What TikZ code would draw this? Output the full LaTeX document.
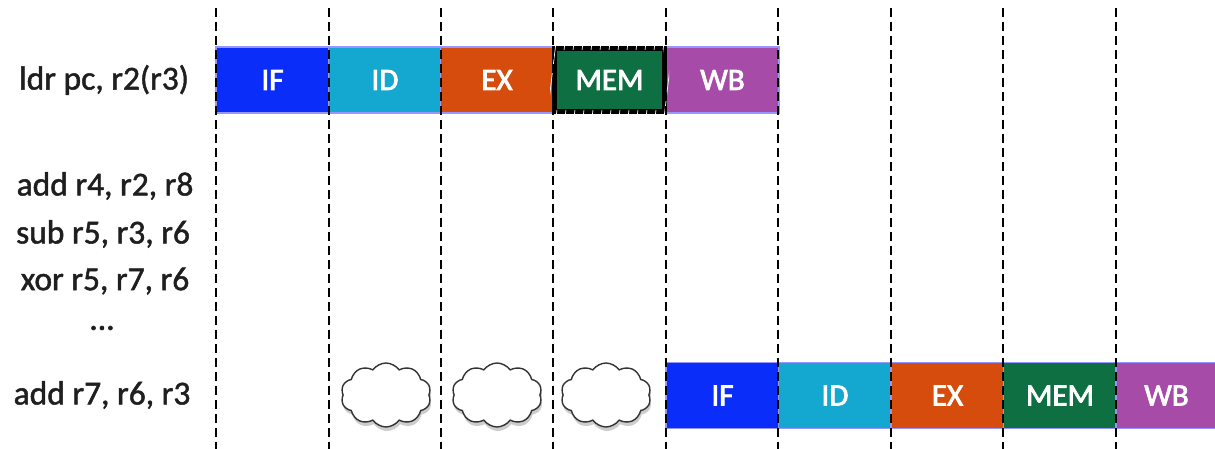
\documentclass[tikz,border=0pt]{standalone}
\usepackage{fontspec}
\setmainfont{Carlito}
\usetikzlibrary{shapes.symbols,shadows}
\definecolor{cIF}{RGB}{10,45,250}
\definecolor{cID}{RGB}{20,168,208}
\definecolor{cEX}{RGB}{214,76,12}
\definecolor{cMEM}{RGB}{14,112,66}
\definecolor{cWB}{RGB}{166,76,168}
\definecolor{lav}{RGB}{150,150,255}
\tikzset{
  stage/.style={rectangle, minimum width=113pt, minimum height=66pt, inner sep=0pt,
    text=white, font=\fontsize{31}{31}\selectfont\addfontfeature{FakeBold=2.5}, draw=lav, line width=1.2pt},
  instr/.style={inner sep=0pt, text=black!88, font=\fontsize{33.5}{33.5}\selectfont\addfontfeature{FakeBold=1.5}},
  grid/.style={black, line width=2.8pt, dash pattern=on 9pt off 5pt},
  bubble/.style={cloud, cloud puffs=10, cloud puff arc=110, aspect=1.4, draw=black!80,
    line width=1.4pt, fill=white, minimum width=90pt, minimum height=64pt,
    drop shadow={shadow xshift=1pt, shadow yshift=-4pt, opacity=0.4}}
}
\begin{document}
\begin{tikzpicture}[x=1pt,y=-1pt]
\useasboundingbox (0,0) rectangle (1215,449);
% instruction labels
\node[instr] (l1) at (104,80) {ldr pc, r2(r3)};
\node[instr] (l2) at (105,186) {add r4, r2, r8};
\node[instr] (l3) at (103,234) {sub r5, r3, r6};
\node[instr] (l4) at (105,281) {xor r5, r7, r6};
\node[instr] (l5) at (102,328) {...};
\node[instr] (l6) at (102,395) {add r7, r6, r3};
% top pipeline
\node[stage, fill=cIF] (t1) at (272.5,80) {IF};
\node[stage, fill=cID] (t2) at (385,80) {ID};
\node[stage, fill=cEX] (t3) at (497,80) {EX};
\node[stage, fill=cWB] (t5) at (722.5,80) {WB};
\node[stage, fill=cMEM, draw=black, line width=5pt, minimum width=110pt, minimum height=63pt] (t4) at (609.5,80) {MEM};
\begin{scope}[even odd rule]
  \clip (550,44) rectangle (669,116) (556,50) rectangle (663,110);
  \foreach \i in {520,529,...,680} {
    \draw[white, line width=0.7pt] (\i,118) -- (\i+9,42);
  }
\end{scope}
% bottom pipeline
\node[stage, fill=cIF] (b1) at (722.5,395.5) {IF};
\node[stage, fill=cID] (b2) at (835,395.5) {ID};
\node[stage, fill=cEX] (b3) at (947.5,395.5) {EX};
\node[stage, fill=cMEM] (b4) at (1060,395.5) {MEM};
\node[stage, fill=cWB, minimum width=101pt] (b5) at (1166.5,395.5) {WB};
% clouds
\node[bubble] (c1) at (386,395) {};
\node[bubble] (c2) at (497,395) {};
\node[bubble] (c3) at (606,395) {};
% grid lines
\foreach \x in {216,329,441,553,666,778,891,1003,1116} {
  \draw[grid] (\x,8) -- (\x,449);
}
\end{tikzpicture}
\end{document}
